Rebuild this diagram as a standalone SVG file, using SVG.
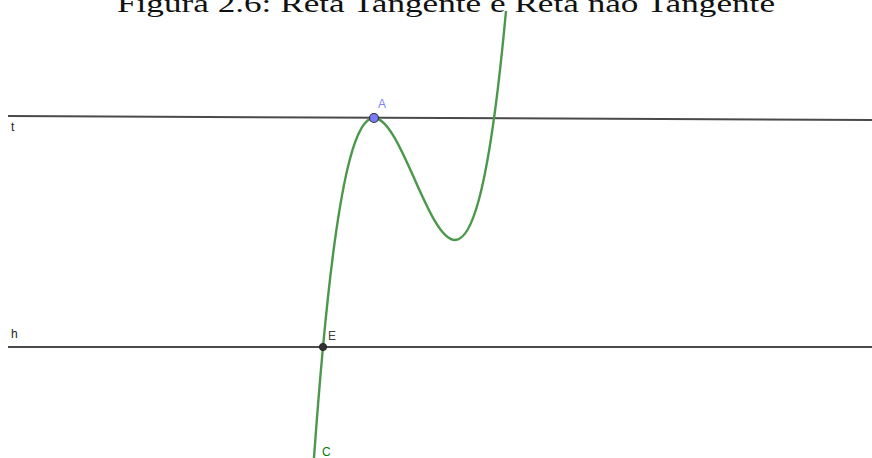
<svg xmlns="http://www.w3.org/2000/svg" width="872" height="458" viewBox="0 0 872 458">
<style>
.title{font-family:"Liberation Serif","DejaVu Serif",serif;font-size:26px;fill:#111}
.line{stroke:#4a4a4a;stroke-width:2;fill:none}
.curve{stroke:#4b984b;stroke-width:2.4;fill:none}
.lbl{font-family:"Liberation Sans","DejaVu Sans",sans-serif;font-size:12px}
</style>
<rect width="872" height="458" fill="#ffffff"/>
<text class="title" x="117" y="12" textLength="658" lengthAdjust="spacingAndGlyphs">Figura 2.6: Reta Tangente e Reta não Tangente</text>
<g id="connectors">
<line id="t" class="line" x1="8" y1="116" x2="872" y2="120"/>
<line id="h" class="line" x1="8" y1="347" x2="872" y2="347"/>
<path id="curveC" class="curve" d="M313.5,464.8 C316.67,420.05 319.83,381.11 323,347 C326.83,305.71 330.67,271.54 334.5,243.35 C339.67,205.35 344.83,178.01 350,158.7 C358,128.8 366,118 374,118 C380.83,118 387.67,125.97 394.5,137.66 C401.17,149.07 407.83,164.04 414.5,179 C421.17,193.96 427.83,208.93 434.5,220.34 C441.33,232.03 448.17,240 455,240 C463,240 471,229.2 479,199.3 C484.17,179.99 489.33,152.65 494.5,114.65 C498.33,86.46 502.17,52.29 506,11"/>
</g>
<g id="label-t"><text class="lbl" x="11" y="131" fill="#222">t</text></g>
<g id="label-h"><text class="lbl" x="11" y="338" fill="#222">h</text></g>
<g id="label-C"><text class="lbl" x="322" y="456" fill="#0a7a0a">C</text></g>
<g id="point-A">
<circle cx="374" cy="118" r="4.5" fill="#7a7aff" stroke="#333" stroke-width="1.2"/>
<text class="lbl" x="378" y="108" fill="#7f7fff">A</text>
</g>
<g id="point-E">
<circle cx="323" cy="347" r="3.6" fill="#333" stroke="#222" stroke-width="1"/>
<text class="lbl" x="328" y="340" fill="#444">E</text>
</g>
</svg>
